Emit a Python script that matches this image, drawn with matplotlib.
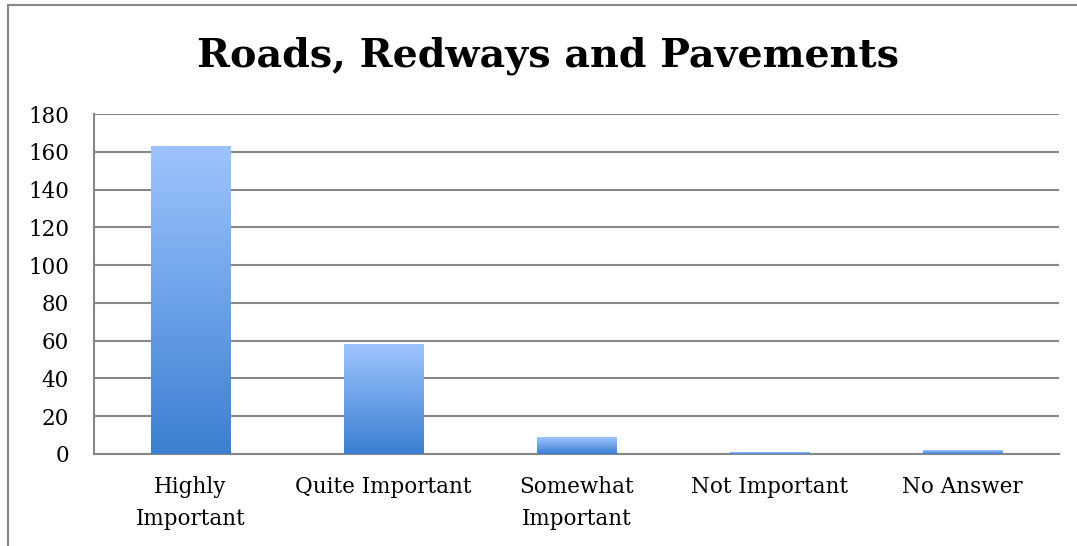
import numpy as np
import matplotlib.pyplot as plt
from matplotlib.lines import Line2D
from matplotlib.colors import LinearSegmentedColormap

# data
categories = ['Highly\nImportant', 'Quite Important', 'Somewhat\nImportant',
              'Not Important', 'No Answer']
counts = [163, 58, 9, 1, 2]
yticks = [0, 20, 40, 60, 80, 100, 120, 140, 160, 180]

plt.rcParams['font.family'] = ['DejaVu Serif']

fig = plt.figure(figsize=(10.77, 5.46), dpi=100)
ax = fig.add_axes([0.0873, 0.1685, 0.8957, 0.6225])

x = np.arange(len(categories))
bars = ax.bar(x, counts, width=0.41, color='none', edgecolor='none', zorder=3)

# gradient fill, light at the top, darker at the bottom
cmap = LinearSegmentedColormap.from_list('grad', ['#3b7fd1', '#9ec4ff'])
grad = np.linspace(0, 1, 256).reshape(-1, 1)
for b in bars:
    x0, w, h = b.get_x(), b.get_width(), b.get_height()
    im = ax.imshow(grad, cmap=cmap, origin='lower', aspect='auto',
                   extent=(x0, x0 + w, 0, h), zorder=3)
    im.set_clip_path(b)

ax.set_xlim(-0.5, len(categories) - 0.5)
ax.set_ylim(0, 180)
ax.set_yticks(yticks)
ax.set_xticks(x)
ax.set_xticklabels(categories, fontsize=15.5, linespacing=1.6)
ax.tick_params(axis='y', labelsize=15.5, length=0, pad=18)
ax.tick_params(axis='x', length=0, pad=16)
ax.yaxis.grid(True, color='#878787', linewidth=1.5, zorder=0)
ax.set_axisbelow(True)
for side in ['top', 'right']:
    ax.spines[side].set_visible(False)
ax.spines['left'].set_color('#878787')
ax.spines['left'].set_linewidth(1.5)
ax.spines['bottom'].set_color('#878787')
ax.spines['bottom'].set_linewidth(1.5)

fig.text(0.5085, 0.898, 'Roads, Redways and Pavements', ha='center', va='center',
         fontsize=28.5, fontweight='bold')

# outer chart border (left and top visible)
fig.add_artist(Line2D([8 / 1077, 8 / 1077], [0, 1 - 5 / 546], color='#878787', linewidth=1.5))
fig.add_artist(Line2D([8 / 1077, 1.01], [1 - 5 / 546, 1 - 5 / 546], color='#878787', linewidth=1.5))

fig.savefig('out.png', dpi=100)
